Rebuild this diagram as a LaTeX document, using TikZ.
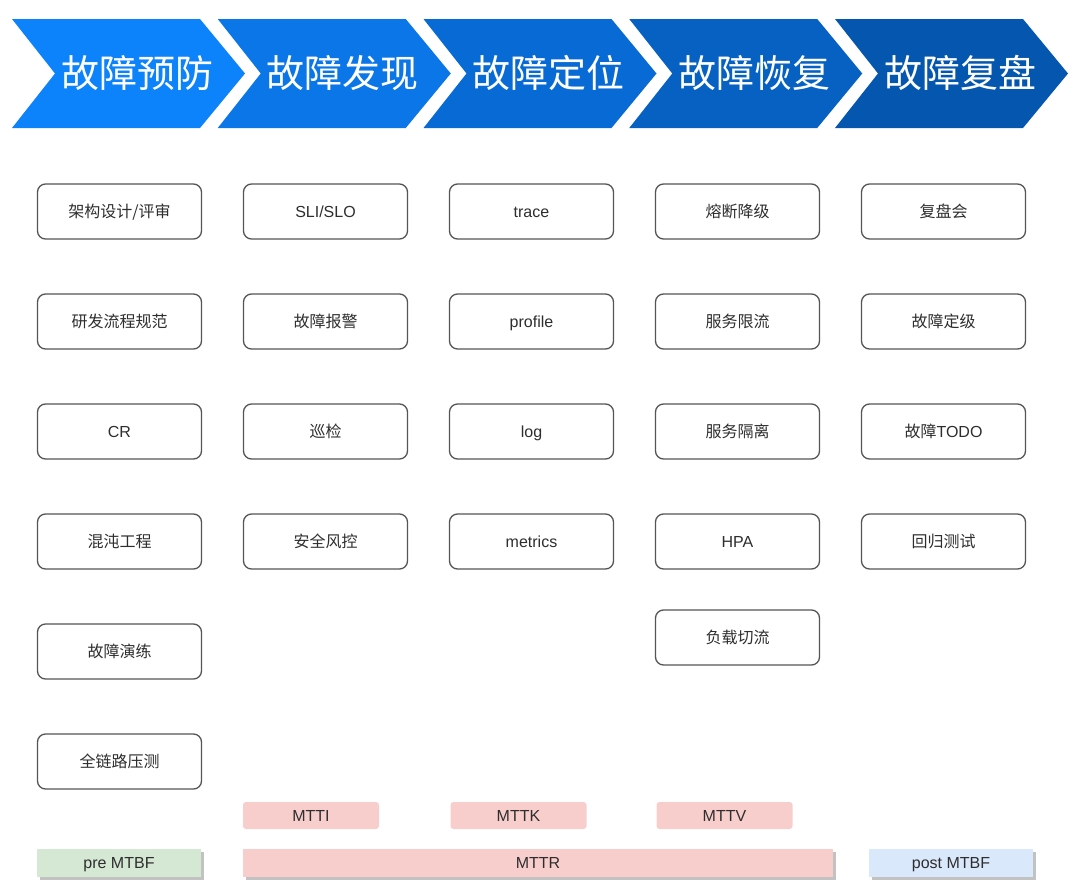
\documentclass[tikz,border=0pt]{standalone}
\usepackage{fontspec}
\setmainfont{Liberation Sans}
\newfontfamily\cjk{Noto Sans CJK SC}
\usetikzlibrary{shadows}
\definecolor{stageA}{HTML}{0C82FB}
\definecolor{stageB}{HTML}{0A76E7}
\definecolor{stageC}{HTML}{086BD5}
\definecolor{stageD}{HTML}{0661C3}
\definecolor{stageE}{HTML}{0456AE}
\definecolor{ink}{HTML}{2E2E2E}
\definecolor{edge}{HTML}{555555}
\definecolor{rose}{HTML}{F8CECC}
\definecolor{mint}{HTML}{D5E8D4}
\definecolor{mist}{HTML}{DAE8FC}
\tikzset{
  stagelab/.style={text=white, font=\cjk\fontsize{38}{40}\selectfont},
  card/.style={draw=edge, line width=1.3pt, fill=white, rounded corners=8pt,
    minimum width=164pt, minimum height=55pt, text height=11.5pt, text depth=0pt,
    text=ink, font=\fontsize{16}{18}\selectfont},
  tag/.style={fill=rose, rounded corners=3pt, minimum width=136pt, minimum height=27pt,
    text height=11.5pt, text depth=0pt, text=ink, font=\fontsize{16}{18}\selectfont},
  span/.style={minimum height=28pt, text height=11.5pt, text depth=0pt, text=ink,
    font=\fontsize{16}{18}\selectfont,
    drop shadow={shadow xshift=3pt, shadow yshift=-3pt, fill=black!24, opacity=1}},
}

\begin{document}
\begin{tikzpicture}[x=1pt, y=-1pt]
  \path[use as bounding box] (0,0) rectangle (1080,892);

  % stage chevrons
  \foreach \c/\t [count=\i from 0] in {stageA/故障预防, stageB/故障发现, stageC/故障定位, stageD/故障恢复, stageE/故障复盘}{
    \begin{scope}[shift={(\i*205.75,0)}]
      \fill[\c] (12,19) -- (200,19) -- (245,73.5) -- (200,128) -- (12,128) -- (55,73.5) -- cycle;
      \node[stagelab] (stage\i) at (137,73) {\t};
    \end{scope}
  }

  % prevention
  \foreach \t [count=\r from 0] in {{\cjk 架构设计/评审},{\cjk 研发流程规范},CR,{\cjk 混沌工程},{\cjk 故障演练},{\cjk 全链路压测}}
    \node[card] (prev\r) at (119.5,{211.5+110*\r}) {\t};

  % detection
  \foreach \t [count=\r from 0] in {SLI/SLO,{\cjk 故障报警},{\cjk 巡检},{\cjk 安全风控}}
    \node[card] (find\r) at (325.5,{211.5+110*\r}) {\t};

  % locating
  \foreach \t [count=\r from 0] in {trace,profile,log,metrics}
    \node[card] (loc\r) at (531.5,{211.5+110*\r}) {\t};

  % recovery
  \foreach \t [count=\r from 0] in {{\cjk 熔断降级},{\cjk 服务限流},{\cjk 服务隔离},HPA}
    \node[card] (rec\r) at (737.5,{211.5+110*\r}) {\t};
  \node[card] (rec4) at (737.5,637.5) {\cjk 负载切流};

  % review
  \foreach \t [count=\r from 0] in {{\cjk 复盘会},{\cjk 故障定级},{{\cjk 故障}TODO},{\cjk 回归测试}}
    \node[card] (rev\r) at (943.5,{211.5+110*\r}) {\t};

  % time spans
  \node[tag] (mtti) at (311,815.5) {MTTI};
  \node[tag] (mttk) at (518.5,815.5) {MTTK};
  \node[tag] (mttv) at (724.5,815.5) {MTTV};
  \node[span, fill=mint, minimum width=164pt] (pre) at (119,863) {pre MTBF};
  \node[span, fill=rose, minimum width=590pt] (mttr) at (538,863) {MTTR};
  \node[span, fill=mist, minimum width=164pt] (post) at (951,863) {post MTBF};
\end{tikzpicture}
\end{document}
